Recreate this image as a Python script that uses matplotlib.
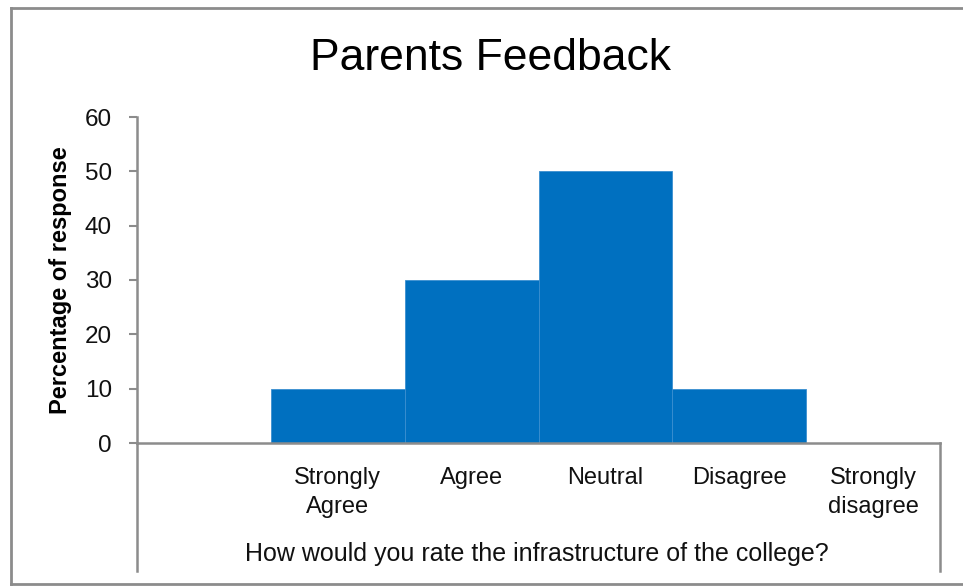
import matplotlib
matplotlib.use("Agg")
import matplotlib.pyplot as plt
from matplotlib.lines import Line2D

categories = ["", "Strongly\nAgree", "Agree", "Neutral", "Disagree", "Strongly\ndisagree"]
values = [0, 10, 30, 50, 10, 0]
yticks = [0, 10, 20, 30, 40, 50, 60]

W, H = 963, 586
fig = plt.figure(figsize=(W / 100, H / 100), dpi=100)
fig.patch.set_facecolor("white")

# outer chart frame
frame_color = "#8c8c8c"
fig.add_artist(Line2D([11 / W, 11 / W], [1 - 8 / H, 1 - 584 / H], color=frame_color, lw=2))
fig.add_artist(Line2D([11 / W, 1.0], [1 - 8 / H, 1 - 8 / H], color=frame_color, lw=2))
fig.add_artist(Line2D([11 / W, 1.0], [1 - 584 / H, 1 - 584 / H], color=frame_color, lw=2))

left, right, top, bottom = 137, 940, 117, 443
ax = fig.add_axes([left / W, 1 - bottom / H, (right - left) / W, (bottom - top) / H])

x = list(range(len(categories)))
ax.bar(x, values, width=1.0, color="#0070C0", edgecolor="#3a8fd0", linewidth=0.6)
ax.set_xlim(-0.5, len(categories) - 0.5)
ax.set_ylim(0, 60)
ax.set_yticks(yticks)
ax.set_yticklabels([str(v) for v in yticks], fontsize=17.5, family="Liberation Sans", color="#111111")
ax.tick_params(axis="y", direction="out", length=6, width=1.5, color="#8c8c8c", pad=12)
ax.set_xticks(x)
ax.set_xticklabels(categories, fontsize=17, family="Liberation Sans", color="#111111", linespacing=1.45)
ax.tick_params(axis="x", length=0, pad=17)

for s in ["top", "right"]:
    ax.spines[s].set_visible(False)
for s in ["left", "bottom"]:
    ax.spines[s].set_color("#8c8c8c")
    ax.spines[s].set_linewidth(1.8)

# multi-level axis verticals extending below the axis
ext = (571 - 443) / (bottom - top)
for xv in (0, 1):
    ax.add_line(Line2D([xv, xv], [0, -ext], transform=ax.transAxes, color="#8c8c8c", lw=1.8, clip_on=False))

ax.set_ylabel("Percentage of response", fontsize=17, fontweight="bold", family="Liberation Sans")
ax.yaxis.set_label_coords((72 - left) / (right - left), 0.5)

fig.text(537 / W, 1 - 554 / H, "How would you rate the infrastructure of the college?", ha="center",
         va="center", fontsize=18, family="Liberation Sans", color="#111111")

fig.text(490 / W, 1 - 58 / H, "Parents Feedback", ha="center", va="center",
         fontsize=32, family="Liberation Sans")

fig.savefig("out.png", dpi=100)
